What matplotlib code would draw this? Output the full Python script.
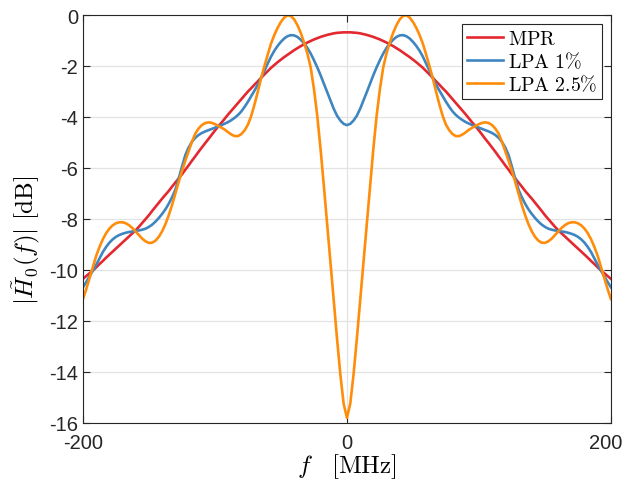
import numpy as np
import matplotlib
matplotlib.use('Agg')
import matplotlib.pyplot as plt
import matplotlib.transforms as mtransforms

plt.rcParams['font.family'] = ['Liberation Sans', 'DejaVu Sans']
plt.rcParams['mathtext.fontset'] = 'cm'
plt.rcParams['axes.unicode_minus'] = False

# eje de frecuencia: de -200 a 200 MHz cada 2.5 MHz (161 puntos)
f_mhz = np.linspace(-200, 200, 161)

# valores (dB)
mpr = [-10.35, -10.24, -10.13, -10.02, -9.90, -9.77, -9.65, -9.52, -9.40, -9.28,
       -9.16, -9.04, -8.92, -8.80, -8.68, -8.56, -8.44, -8.30, -8.15, -8.00,
       -7.85, -7.68, -7.52, -7.36, -7.20, -7.05, -6.90, -6.73, -6.57, -6.41,
       -6.25, -6.07, -5.90, -5.72, -5.55, -5.37, -5.20, -5.03, -4.87, -4.70,
       -4.53, -4.37, -4.22, -4.06, -3.90, -3.75, -3.60, -3.45, -3.30, -3.15,
       -3.00, -2.87, -2.73, -2.60, -2.46, -2.33, -2.20, -2.07, -1.96, -1.85,
       -1.75, -1.65, -1.56, -1.47, -1.38, -1.30, -1.22, -1.15, -1.08, -1.02,
       -0.96, -0.91, -0.86, -0.82, -0.78, -0.75, -0.72, -0.70, -0.69, -0.68,
       -0.68,
       -0.68, -0.69, -0.70, -0.72, -0.75, -0.78, -0.82, -0.86, -0.91, -0.96,
       -1.02, -1.08, -1.15, -1.22, -1.30, -1.38, -1.47, -1.56, -1.65, -1.75,
       -1.85, -1.96, -2.07, -2.20, -2.33, -2.46, -2.60, -2.73, -2.87, -3.00,
       -3.15, -3.30, -3.45, -3.60, -3.75, -3.90, -4.06, -4.22, -4.37, -4.53,
       -4.70, -4.87, -5.03, -5.20, -5.37, -5.55, -5.72, -5.90, -6.07, -6.25,
       -6.41, -6.57, -6.73, -6.90, -7.05, -7.20, -7.36, -7.52, -7.68, -7.85,
       -8.00, -8.15, -8.30, -8.44, -8.56, -8.68, -8.80, -8.92, -9.04, -9.16,
       -9.28, -9.40, -9.52, -9.65, -9.77, -9.90, -10.02, -10.13, -10.24, -10.35]

lpa_1 = [-10.68, -10.47, -10.25, -10.03, -9.80, -9.55, -9.30, -9.10, -8.93, -8.80,
         -8.70, -8.63, -8.58, -8.54, -8.51, -8.49, -8.47, -8.45, -8.42, -8.38,
         -8.31, -8.22, -8.10, -7.96, -7.80, -7.62, -7.40, -7.15, -6.85, -6.42,
         -5.95, -5.50, -5.20, -4.98, -4.82, -4.71, -4.63, -4.57, -4.52, -4.47,
         -4.42, -4.37, -4.32, -4.26, -4.20, -4.12, -4.03, -3.92, -3.78, -3.60,
         -3.40, -3.18, -2.96, -2.73, -2.47, -2.18, -1.90, -1.63, -1.40, -1.21,
         -1.05, -0.92, -0.83, -0.79, -0.80, -0.86, -0.97, -1.11, -1.29, -1.51,
         -1.77, -2.05, -2.36, -2.69, -3.03, -3.36, -3.68, -3.95, -4.14, -4.27,
         -4.32,
         -4.27, -4.14, -3.95, -3.68, -3.36, -3.03, -2.69, -2.36, -2.05, -1.77,
         -1.51, -1.29, -1.11, -0.97, -0.86, -0.80, -0.79, -0.83, -0.92, -1.05,
         -1.21, -1.40, -1.63, -1.90, -2.18, -2.47, -2.73, -2.96, -3.18, -3.40,
         -3.60, -3.78, -3.92, -4.03, -4.12, -4.20, -4.26, -4.32, -4.37, -4.42,
         -4.47, -4.52, -4.57, -4.63, -4.71, -4.82, -4.98, -5.20, -5.50, -5.95,
         -6.42, -6.85, -7.15, -7.40, -7.62, -7.80, -7.96, -8.10, -8.22, -8.31,
         -8.38, -8.42, -8.45, -8.47, -8.49, -8.51, -8.54, -8.58, -8.63, -8.70,
         -8.80, -8.93, -9.10, -9.30, -9.55, -9.80, -10.03, -10.25, -10.47, -10.68]

lpa_25 = [-11.14, -10.75, -10.32, -9.88, -9.45, -9.10, -8.80, -8.56, -8.38, -8.25,
          -8.17, -8.13, -8.13, -8.17, -8.25, -8.36, -8.50, -8.64, -8.78, -8.88,
          -8.94, -8.93, -8.85, -8.70, -8.48, -8.20, -7.85, -7.45, -7.00, -6.55,
          -6.12, -5.72, -5.35, -4.98, -4.66, -4.46, -4.32, -4.24, -4.21, -4.23,
          -4.28, -4.35, -4.42, -4.50, -4.60, -4.69, -4.75, -4.75, -4.67, -4.52,
          -4.30, -3.95, -3.50, -3.00, -2.47, -2.00, -1.55, -1.12, -0.78, -0.50,
          -0.27, -0.10, -0.01, -0.04, -0.17, -0.40, -0.70, -1.08, -1.50, -2.05,
          -2.90, -3.95, -5.25, -6.70, -8.20, -9.70, -11.20, -12.70, -14.10, -15.25,
          -15.80,
          -15.25, -14.10, -12.70, -11.20, -9.70, -8.20, -6.70, -5.25, -3.95, -2.90,
          -2.05, -1.50, -1.08, -0.70, -0.40, -0.17, -0.04, -0.01, -0.10, -0.27,
          -0.50, -0.78, -1.12, -1.55, -2.00, -2.47, -3.00, -3.50, -3.95, -4.30,
          -4.52, -4.67, -4.75, -4.75, -4.69, -4.60, -4.50, -4.42, -4.35, -4.28,
          -4.23, -4.21, -4.24, -4.32, -4.46, -4.66, -4.98, -5.35, -5.72, -6.12,
          -6.55, -7.00, -7.45, -7.85, -8.20, -8.48, -8.70, -8.85, -8.93, -8.94,
          -8.88, -8.78, -8.64, -8.50, -8.36, -8.25, -8.17, -8.13, -8.13, -8.17,
          -8.25, -8.38, -8.56, -8.80, -9.10, -9.45, -9.88, -10.32, -10.75, -11.14]

nombres = [r'$\mathrm{MPR}$', r'$\mathrm{LPA\ 1\%}$', r'$\mathrm{LPA\ 2.5\%}$']
colores = ['#e3282f', '#3f86c0', '#ff8c0a']

fig = plt.figure(figsize=(6.24, 4.85), dpi=100)
ax = fig.add_axes([0.133, 0.126, 0.846, 0.841])

for datos, nombre, c in zip([mpr, lpa_1, lpa_25], nombres, colores):
    ax.plot(f_mhz, datos, color=c, lw=1.9, label=nombre, solid_joinstyle='round')

ax.set_xlim(-200, 200)
ax.set_ylim(-16, 0)
ax.set_xticks([-200, 0, 200])
ax.set_yticks(np.arange(-16, 1, 2))
ax.grid(True, color='#e3e3e3', lw=0.9)
ax.set_axisbelow(True)
ax.tick_params(direction='in', top=True, right=True, labelsize=14.5, length=5,
               color='#262626', labelcolor='#262626', width=0.8)
ax.tick_params(axis='x', pad=7)
for s in ax.spines.values():
    s.set_color('#262626')
    s.set_linewidth(0.8)

# correr un poco la etiqueta 200 para que no se corte
desplazar = mtransforms.ScaledTranslation(-5 / 100, 0, fig.dpi_scale_trans)
ultima = ax.get_xticklabels()[-1]
ultima.set_transform(ultima.get_transform() + desplazar)

ax.set_xlabel(r'$f \quad [\mathrm{MHz}]$', fontsize=18, labelpad=0)
ax.set_ylabel(r'$|\tilde{H}_0(f)|\ [\mathrm{dB}]$', fontsize=18)
ax.yaxis.set_label_coords(-0.077, 0.45)

leg = ax.legend(loc='upper right', fontsize=14.3, fancybox=False, edgecolor='#262626',
                framealpha=1, borderpad=0.25, handlelength=1.8, handletextpad=0.25,
                labelspacing=0.12, borderaxespad=0.45)
leg.get_frame().set_linewidth(0.8)

fig.savefig('out.png', dpi=100)
